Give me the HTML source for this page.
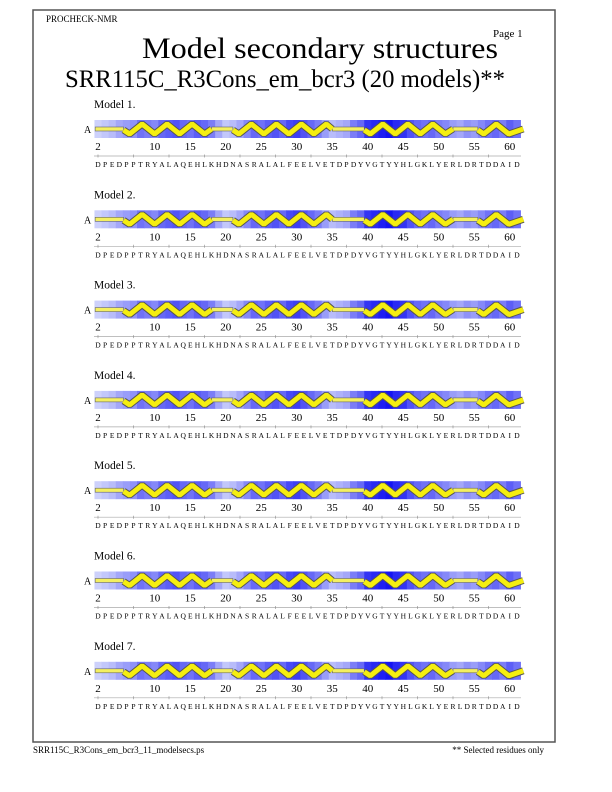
<!DOCTYPE html>
<html><head><meta charset="utf-8"><style>
body{margin:0;background:#fff;width:612px;height:792px;overflow:hidden;font-family:"Liberation Serif",serif;}
svg{position:absolute;left:0;top:0}
</style></head><body>
<svg id="s" width="612" height="792" xmlns="http://www.w3.org/2000/svg" font-family="Liberation Serif, serif">
<rect x="33" y="10" width="522" height="732" fill="none" stroke="#555" stroke-width="1.5"/>
<text x="46" y="22" font-size="9">PROCHECK-NMR</text>
<text x="493" y="37" font-size="11">Page  1</text>
<text x="142" y="58" font-size="30" textLength="356" lengthAdjust="spacingAndGlyphs">Model secondary structures</text>
<text x="65" y="87" font-size="25" textLength="440" lengthAdjust="spacingAndGlyphs">SRR115C_R3Cons_em_bcr3 (20 models)**</text>
<text x="33" y="753" font-size="9">SRR115C_R3Cons_em_bcr3_11_modelsecs.ps</text>
<text x="544" y="753" font-size="9" text-anchor="end">** Selected residues only</text>
<g id="g"></g>
</svg>
<script>
var seq="DPEDPPTRYALAQEHLKHDNASRALALFEELVETDPDYVGTYYHLGKLYERLDRTDDAID";
var sh=[.1,.15,.2,.3,.35,.4,.55,.5,.45,.6,.65,.7,.6,.55,.65,.6,.5,.3,.15,.2,.3,.45,.6,.55,.65,.7,.6,.75,.8,.7,.6,.5,.35,.2,.25,.3,.5,.6,.85,.9,.95,1,.9,.85,.7,.6,.55,.6,.5,.45,.35,.3,.4,.35,.45,.55,.6,.5,.65,.55];
function col(t){var r=Math.round(225-t*205),g=Math.round(230-t*210),b=Math.round(252-t*10);return "rgb("+r+","+g+","+b+")";}
function X(r){return 98+(r-2)*7.1;}
var out="";
var helices=[[5.6,18],[21,35],[39.5,52],[55.5,61.9]];
for(var m=0;m<7;m++){
 var y0=120+m*90.3;
 out+='<text x="94" y="'+(y0-12)+'" font-size="11.5">Model  '+(m+1)+'.</text>';
 out+='<text x="84" y="'+(y0+13)+'" font-size="10">A</text>';
 for(var i=0;i<60;i++){out+='<rect x="'+(X(i+2)-3.55).toFixed(2)+'" y="'+y0+'" width="7.6" height="18" fill="'+col(sh[i])+'"/>';}
 var mid=y0+9;
 var coils=[[1.6,5.6],[18,21],[35,39.5],[52,55.5]];
 coils.forEach(function(c){var a=X(c[0]),b=X(c[1]);out+='<rect x="'+a+'" y="'+(mid-2)+'" width="'+(b-a)+'" height="4" fill="#f4f060" stroke="#666" stroke-width="0.6"/>';});
 helices.forEach(function(h){var a=X(h[0]),b=X(h[1]);var pts=[];var up=false;
  pts.push(a+","+(mid+1));var x=a+6;while(x<b-3){pts.push(x.toFixed(1)+","+(up?y0+4:y0+14));up=!up;x+=12.5;}pts.push(b+","+mid);
  var p=pts.join(" ");
  out+='<polyline points="'+p+'" fill="none" stroke="#555" stroke-width="7" stroke-linejoin="bevel"/>';
  out+='<polyline points="'+p+'" fill="none" stroke="#f5ee10" stroke-width="5" stroke-linejoin="bevel"/>';});
 var ty=y0+30;
 [2,10,15,20,25,30,35,40,45,50,55,60].forEach(function(r){out+='<text x="'+X(r)+'" y="'+ty+'" font-size="11" text-anchor="middle">'+r+'</text>';});
 var ly=y0+36;
 out+='<line x1="94" y1="'+ly+'" x2="521" y2="'+ly+'" stroke="#aaa" stroke-width="0.7"/>';
 for(var r=2;r<=61;r+=5){out+='<line x1="'+X(r)+'" y1="'+(ly-1.5)+'" x2="'+X(r)+'" y2="'+(ly+1.5)+'" stroke="#888" stroke-width="0.6"/>';}
 for(var i=0;i<60;i++){out+='<text x="'+X(i+2)+'" y="'+(y0+47)+'" font-size="7.5" text-anchor="middle">'+seq[i]+'</text>';}
}
document.getElementById("g").innerHTML=out;
</script>
</body></html>
